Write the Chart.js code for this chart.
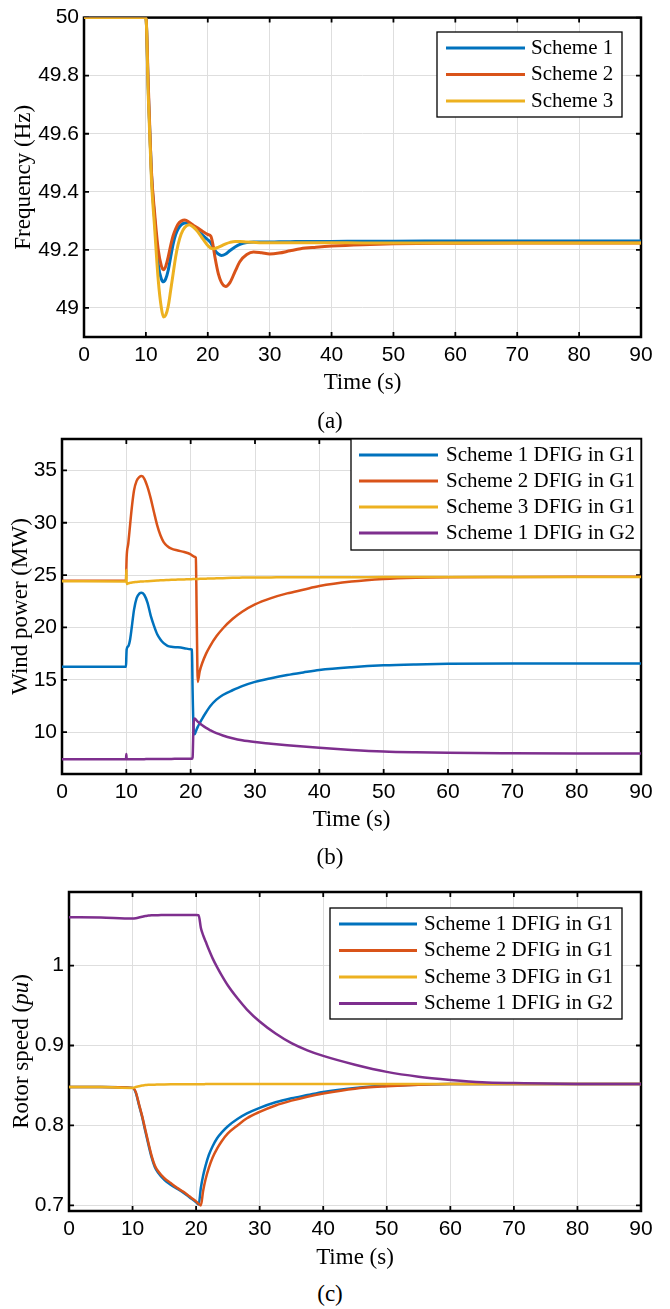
<!DOCTYPE html>
<html>
<head>
<meta charset="utf-8">
<script src="https://cdn.jsdelivr.net/npm/chart.js@4.4.0/dist/chart.umd.min.js"></script>
<style>
  html, body { margin: 0; padding: 0; background: #fff; }
  #page { position: relative; width: 670px; height: 1309px; overflow: hidden; }
  #page canvas { position: absolute; left: 0; }
  .panel-tag {
    position: absolute;
    font-family: "Liberation Serif", "Times New Roman", serif;
    font-size: 23px;
    line-height: 1;
    color: #000;
    transform: translate(-50%, -50%);
  }
</style>
</head>
<body>
<div id="page">
  <canvas id="freqChart" width="670" height="400" style="top:0px"></canvas>
  <canvas id="powerChart" width="670" height="420" style="top:420px"></canvas>
  <canvas id="speedChart" width="670" height="420" style="top:860px"></canvas>
  <div class="panel-tag" style="left:330px;top:420px">(a)</div>
  <div class="panel-tag" style="left:330px;top:856px">(b)</div>
  <div class="panel-tag" style="left:330px;top:1293px">(c)</div>
</div>
<script>
// ---- data ----
const timeTicks = [0, 10, 20, 30, 40, 50, 60, 70, 80, 90];

// (a) system frequency
const freqTime = [0, 10, 10.4, 10.9, 11.4, 12, 12.5, 12.85, 13.2, 13.6, 14, 14.4, 14.8, 15.2, 15.7, 16.3, 17, 17.7, 18.4, 19.2,
  20, 20.5, 20.8, 21.2, 21.7, 22.2, 22.9, 23.6, 24.4, 25.2, 26.3, 27.4, 28.7, 30, 31.5, 33.3, 35, 37.5, 40, 45, 50, 60, 70, 90];
const freqScheme1 = [50, 50, 49.74, 49.46, 49.31, 49.15, 49.1, 49.09, 49.1, 49.129, 49.175, 49.22, 49.252, 49.272, 49.286, 49.293, 49.291, 49.28, 49.265, 49.25,
  49.235, 49.224, 49.212, 49.197, 49.186, 49.181, 49.186, 49.198, 49.21, 49.219, 49.225, 49.227, 49.227, 49.227, 49.228, 49.228, 49.229, 49.229, 49.229, 49.23, 49.23, 49.231, 49.231, 49.231];
const freqScheme2 = [50, 50, 49.76, 49.47, 49.33, 49.2, 49.145, 49.132, 49.143, 49.175, 49.215, 49.249, 49.272, 49.289, 49.299, 49.303, 49.295, 49.284, 49.275, 49.263,
  49.253, 49.247, 49.222, 49.17, 49.118, 49.088, 49.074, 49.088, 49.125, 49.16, 49.184, 49.193, 49.19, 49.186, 49.189, 49.197, 49.204, 49.209, 49.213, 49.218, 49.221, 49.223, 49.224, 49.224];
const freqScheme3 = [50, 50, 49.72, 49.44, 49.28, 49.095, 49.0, 48.969, 48.975, 49.005, 49.06, 49.118, 49.175, 49.218, 49.255, 49.278, 49.287, 49.278, 49.262, 49.238,
  49.215, 49.206, 49.204, 49.205, 49.209, 49.214, 49.221, 49.226, 49.229, 49.229, 49.227, 49.226, 49.225, 49.225, 49.225, 49.225, 49.225, 49.225, 49.225, 49.224, 49.224, 49.224, 49.224, 49.224];
const freqTicks = [49, 49.2, 49.4, 49.6, 49.8, 50];
const freqTickLabels = ["49", "49.2", "49.4", "49.6", "49.8", "50"];
const freqSeries = ["Scheme 1", "Scheme 2", "Scheme 3"];

// (b) wind power
const powerTime = [0, 9.95, 10, 10.05, 10.3, 10.6, 10.9, 11.2, 11.6, 12, 12.4, 12.8, 13.3, 13.8, 14.3, 14.8, 15.3, 15.8, 16.4, 17,
  18, 19, 20, 20.2, 20.3, 20.45, 20.6, 20.8, 20.95, 21.1, 21.4, 21.8, 22.4, 23, 24, 25, 26.5, 28, 30, 32.5,
  35, 37.5, 40, 45, 50, 55, 60, 70, 80, 90];
const powerS1G1 = [16.24, 16.24, 17.2, 17.9, 18.2, 18.9, 20.3, 21.7, 22.8, 23.22, 23.32, 23.1, 22.35, 21.1, 20.15, 19.35, 18.85, 18.5, 18.25, 18.15,
  18.1, 18.02, 17.92, 17.88, 14.0, 10.4, 9.8, 10.05, 10.3, 10.5, 10.85, 11.3, 11.9, 12.45, 13.1, 13.55, 14.0, 14.4, 14.8, 15.15,
  15.45, 15.7, 15.93, 16.2, 16.38, 16.47, 16.52, 16.55, 16.55, 16.55];
const powerS2G1 = [24.45, 24.45, 25.6, 26.7, 28.0, 29.9, 31.7, 33.1, 34.0, 34.35, 34.46, 34.2, 33.4, 32.3, 31.0, 29.75, 28.8, 28.15, 27.75, 27.52,
  27.35, 27.2, 26.98, 26.9, 26.85, 26.8, 26.75, 26.65, 20.5, 14.8, 15.8, 16.6, 17.5, 18.2, 19.15, 19.9, 20.8, 21.5, 22.2, 22.8,
  23.25, 23.6, 23.95, 24.38, 24.63, 24.75, 24.8, 24.82, 24.83, 24.83];
const powerS3G1 = [24.42, 24.4, 25.5, 24.15, 24.22, 24.26, 24.3, 24.32, 24.35, 24.37, 24.39, 24.4, 24.42, 24.44, 24.46, 24.48, 24.5, 24.51, 24.53, 24.55,
  24.57, 24.59, 24.61, 24.61, 24.62, 24.62, 24.62, 24.63, 24.63, 24.63, 24.64, 24.65, 24.66, 24.67, 24.69, 24.71, 24.75, 24.76, 24.77, 24.78,
  24.79, 24.79, 24.8, 24.8, 24.81, 24.81, 24.81, 24.82, 24.82, 24.82];
const powerS1G2 = [7.4, 7.4, 7.9, 7.4, 7.4, 7.41, 7.41, 7.41, 7.42, 7.42, 7.42, 7.42, 7.43, 7.43, 7.43, 7.43, 7.44, 7.44, 7.44, 7.44,
  7.45, 7.45, 7.46, 7.46, 7.6, 10.8, 11.3, 11.2, 11.1, 11.0, 10.85, 10.65, 10.4, 10.2, 9.9, 9.68, 9.42, 9.22, 9.05, 8.9,
  8.75, 8.62, 8.5, 8.3, 8.15, 8.07, 8.02, 7.98, 7.96, 7.95];
const powerTicks = [10, 15, 20, 25, 30, 35];
const powerTickLabels = ["10", "15", "20", "25", "30", "35"];

// (c) rotor speed
const speedTime = [0, 5, 10, 10.5, 11, 11.5, 12, 12.5, 13, 13.5, 14, 15, 16, 17, 18, 19, 20, 20.4, 20.75, 21.1,
  21.5, 22, 22.6, 23.3, 24, 25, 26.5, 28, 30, 32.5, 35, 37.5, 40, 45, 50, 55, 60, 65, 70, 80, 90];
const speedS1G1 = [0.848, 0.848, 0.847, 0.841, 0.826, 0.811, 0.793, 0.776, 0.76, 0.748, 0.741, 0.732, 0.726, 0.721, 0.716, 0.71, 0.704, 0.701, 0.722, 0.737,
  0.75, 0.763, 0.774, 0.784, 0.791, 0.799, 0.808, 0.815, 0.822, 0.829, 0.834, 0.838, 0.842, 0.847, 0.85, 0.851, 0.852, 0.852, 0.852, 0.852, 0.852];
const speedS2G1 = [0.848, 0.848, 0.847, 0.842, 0.827, 0.812, 0.795, 0.778, 0.762, 0.75, 0.743, 0.734, 0.728, 0.722, 0.717, 0.711, 0.705, 0.702, 0.7, 0.718,
  0.733, 0.747, 0.76, 0.771, 0.78, 0.79, 0.8, 0.809, 0.817, 0.825, 0.831, 0.836, 0.84, 0.846, 0.849, 0.851, 0.852, 0.852, 0.852, 0.852, 0.852];
const speedS3G1 = [0.848, 0.848, 0.847, 0.848, 0.849, 0.85, 0.8505, 0.851, 0.851, 0.851, 0.8512, 0.8513, 0.8514, 0.8515, 0.8515, 0.8516, 0.8516, 0.8516, 0.8516, 0.8516,
  0.8517, 0.8517, 0.8517, 0.8517, 0.8518, 0.8518, 0.8518, 0.8519, 0.8519, 0.852, 0.852, 0.852, 0.852, 0.852, 0.852, 0.852, 0.852, 0.852, 0.852, 0.852, 0.852];
const speedS1G2 = [1.0605, 1.06, 1.0588, 1.0592, 1.06, 1.061, 1.062, 1.0625, 1.063, 1.063, 1.063, 1.0632, 1.0632, 1.0632, 1.0633, 1.0633, 1.0633, 1.063, 1.047, 1.038,
  1.03, 1.02, 1.009, 0.998, 0.988, 0.975, 0.959, 0.945, 0.93, 0.915, 0.903, 0.894, 0.887, 0.876, 0.867, 0.861, 0.857, 0.854, 0.853, 0.852, 0.852];
const speedTicks = [0.7, 0.8, 0.9, 1];
const speedTickLabels = ["0.7", "0.8", "0.9", "1"];

const dfigSeries = ["Scheme 1 DFIG in G1", "Scheme 2 DFIG in G1", "Scheme 3 DFIG in G1", "Scheme 1 DFIG in G2"];

// ---- styling ----
const MATLAB_COLORS = ["#0072BD", "#D95319", "#EDB120", "#7E2F8E"];
const GRID_COLOR = "#dedede";
const SANS = "'Liberation Sans', Arial, Helvetica, sans-serif";
const SERIF = "'Liberation Serif', 'Times New Roman', Times, serif";

// box + inward ticks on all four sides, drawn under the curves like MATLAB does
const matlabFrame = {
  id: "matlabFrame",
  beforeDatasetsDraw(chart) {
    const { ctx, chartArea: a, scales: { x, y } } = chart;
    ctx.save();
    ctx.strokeStyle = "#000";
    ctx.lineWidth = 1.8;
    ctx.beginPath();
    x.ticks.forEach(t => {
      const px = x.getPixelForValue(t.value);
      ctx.moveTo(px, a.bottom); ctx.lineTo(px, a.bottom - 5);
      ctx.moveTo(px, a.top); ctx.lineTo(px, a.top + 5);
    });
    y.ticks.forEach(t => {
      const py = y.getPixelForValue(t.value);
      ctx.moveTo(a.left, py); ctx.lineTo(a.left + 5, py);
      ctx.moveTo(a.right, py); ctx.lineTo(a.right - 5, py);
    });
    ctx.stroke();
    ctx.lineWidth = 2.5;
    ctx.strokeRect(a.left, a.top, a.right - a.left, a.bottom - a.top);
    ctx.restore();
  },
  afterDraw(chart, args, opts) {
    // rotated y label, parts may be italic
    const { ctx, chartArea: a } = chart;
    const parts = opts.yTitle || [];
    ctx.save();
    ctx.translate(opts.yTitleX, (a.top + a.bottom) / 2);
    ctx.rotate(-Math.PI / 2);
    ctx.textBaseline = "middle";
    ctx.textAlign = "left";
    ctx.fillStyle = "#000";
    let total = 0;
    parts.forEach(p => { ctx.font = (p.italic ? "italic " : "") + "23px " + SERIF; total += ctx.measureText(p.text).width; });
    let cx = -total / 2;
    parts.forEach(p => {
      ctx.font = (p.italic ? "italic " : "") + "23px " + SERIF;
      ctx.fillText(p.text, cx, 0);
      cx += ctx.measureText(p.text).width;
    });
    ctx.restore();
  }
};

const insetLegend = {
  id: "insetLegend",
  afterDatasetsDraw(chart, args, opts) {
    const { ctx } = chart;
    const b = opts.box;
    if (!b) return;
    ctx.save();
    ctx.fillStyle = "#fff";
    ctx.fillRect(b.x, b.y, b.w, b.h);
    ctx.strokeStyle = "#000";
    ctx.lineWidth = 1.3;
    ctx.strokeRect(b.x, b.y, b.w, b.h);
    ctx.font = "21px " + SERIF;
    ctx.textBaseline = "middle";
    chart.data.datasets.forEach((ds, i) => {
      const yy = b.y + b.firstRow + i * b.rowGap;
      ctx.strokeStyle = ds.borderColor;
      ctx.lineWidth = 3;
      ctx.beginPath();
      ctx.moveTo(b.x + b.lineFrom, yy);
      ctx.lineTo(b.x + b.lineTo, yy);
      ctx.stroke();
      ctx.fillStyle = "#000";
      ctx.fillText(ds.label, b.x + b.textAt, yy);
    });
    ctx.restore();
  }
};

function buildDatasets(time, seriesValues, labels, width) {
  return seriesValues.map((vals, i) => ({
    label: labels[i],
    data: time.map((t, k) => ({ x: t, y: vals[k] })),
    borderColor: MATLAB_COLORS[i],
    borderWidth: width,
    pointRadius: 0,
    cubicInterpolationMode: "monotone",
    borderJoinStyle: "round",
    order: -i
  }));
}

function makeChart(canvasId, cfg) {
  const ctx = document.getElementById(canvasId).getContext("2d");
  return new Chart(ctx, {
    type: "line",
    data: { datasets: buildDatasets(cfg.time, cfg.series, cfg.labels, cfg.lineWidth) },
    plugins: [matlabFrame, insetLegend],
    options: {
      responsive: false,
      animation: false,
      events: [],
      layout: { padding: { top: cfg.padTop, right: 29, left: 0, bottom: 0 } },
      plugins: {
        legend: { display: false },
        tooltip: { enabled: false },
        matlabFrame: { yTitle: cfg.yTitle, yTitleX: cfg.yTitleX },
        insetLegend: { box: cfg.legendBox }
      },
      scales: {
        x: {
          type: "linear",
          min: 0,
          max: 90,
          afterBuildTicks: s => { s.ticks = timeTicks.map(v => ({ value: v })); },
          afterFit: s => { s.height = cfg.xHeight; },
          grid: { color: GRID_COLOR, lineWidth: 1, drawTicks: false },
          border: { display: false },
          ticks: { padding: 6, color: "#000", autoSkip: false, maxRotation: 0, font: { family: SANS, size: 21 }, callback: v => String(v) },
          title: { display: true, text: "Time (s)", color: "#000", font: { family: SERIF, size: 23 }, padding: { top: 0, bottom: cfg.xTitlePad } }
        },
        y: {
          type: "linear",
          min: cfg.yMin,
          max: cfg.yMax,
          afterBuildTicks: s => { s.ticks = cfg.yTicks.map(v => ({ value: v })); },
          afterFit: s => { s.width = cfg.yWidth; },
          grid: { color: GRID_COLOR, lineWidth: 1, drawTicks: false },
          border: { display: false },
          ticks: { padding: 5, color: "#000", font: { family: SANS, size: 21 }, callback: (v, i) => cfg.yTickLabels[i] }
        }
      }
    }
  });
}

makeChart("freqChart", {
  time: freqTime,
  series: [freqScheme1, freqScheme2, freqScheme3],
  labels: freqSeries,
  lineWidth: 3,
  padTop: 16, xHeight: 63, xTitlePad: 3, yWidth: 84,
  yMin: 48.9, yMax: 50,
  yTicks: freqTicks, yTickLabels: freqTickLabels,
  yTitle: [{ text: "Frequency (Hz)" }], yTitleX: 24,
  legendBox: { x: 437, y: 32, w: 185, h: 85, firstRow: 16, rowGap: 26.5, lineFrom: 9, lineTo: 88, textAt: 94 }
});

makeChart("powerChart", {
  time: powerTime,
  series: [powerS1G1, powerS2G1, powerS3G1, powerS1G2],
  labels: dfigSeries,
  lineWidth: 2.5,
  padTop: 19, xHeight: 66, xTitlePad: 6, yWidth: 62,
  yMin: 6, yMax: 38,
  yTicks: powerTicks, yTickLabels: powerTickLabels,
  yTitle: [{ text: "Wind power (MW)" }], yTitleX: 21,
  legendBox: { x: 351, y: 19, w: 290, h: 111, firstRow: 16, rowGap: 26, lineFrom: 8, lineTo: 87, textAt: 95 }
});

makeChart("speedChart", {
  time: speedTime,
  series: [speedS1G1, speedS2G1, speedS3G1, speedS1G2],
  labels: dfigSeries,
  lineWidth: 2.5,
  padTop: 32, xHeight: 69, xTitlePad: 8, yWidth: 69,
  yMin: 0.693, yMax: 1.092,
  yTicks: speedTicks, yTickLabels: speedTickLabels,
  yTitle: [{ text: "Rotor speed (" }, { text: "pu", italic: true }, { text: ")" }], yTitleX: 22,
  legendBox: { x: 330, y: 48, w: 292, h: 111, firstRow: 16, rowGap: 26.5, lineFrom: 9, lineTo: 87, textAt: 94 }
});
</script>
</body>
</html>
